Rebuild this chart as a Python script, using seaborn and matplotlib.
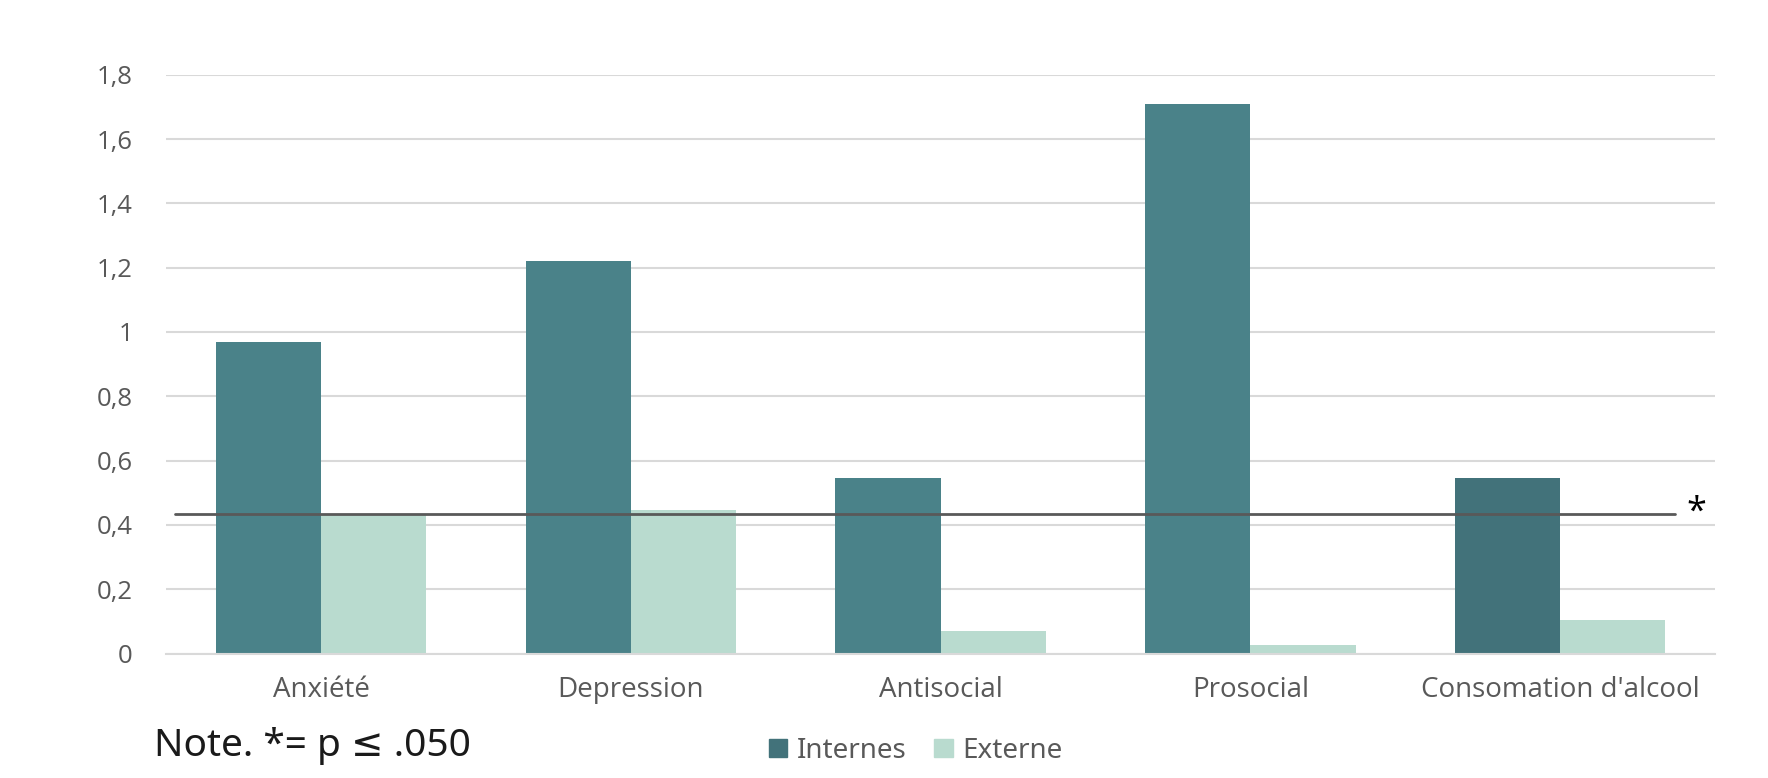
import matplotlib.pyplot as plt
import numpy as np
import pandas as pd
import seaborn as sns
from matplotlib.patches import Patch
from matplotlib.ticker import FuncFormatter

categories = ["Anxiété", "Depression", "Antisocial", "Prosocial", "Consomation d'alcool"]
internes = [0.97, 1.22, 0.545, 1.71, 0.545]
externe = [0.43, 0.445, 0.07, 0.028, 0.105]
groups = ["Internes", "Externe"]
seuil = 0.433
yticks = [0, 0.2, 0.4, 0.6, 0.8, 1.0, 1.2, 1.4, 1.6, 1.8]

df = pd.DataFrame({
    "categorie": categories * 2,
    "valeur": internes + externe,
    "groupe": ["Internes"] * len(categories) + ["Externe"] * len(categories),
})

col_int = "#4A8289"
col_int_dark = "#42727A"
col_ext = "#B9DBCF"
gris = "#595959"

sns.set_style("white")
plt.rcParams['font.family'] = ['Open Sans', 'DejaVu Sans']

fig = plt.figure(figsize=(17.68, 7.78), dpi=100)
ax = fig.add_axes([0.094, 0.160, 0.876, 0.744])

sns.barplot(data=df, x="categorie", y="valeur", hue="groupe", hue_order=groups,
            palette=[col_int, col_ext], width=0.68, saturation=1, linewidth=0,
            ax=ax, legend=False)

# la derniere barre "Internes" est plus foncee
ax.containers[0][4].set_facecolor(col_int_dark)

ax.set_ylim(0, 1.8)
ax.set_yticks(yticks)
ax.yaxis.set_major_formatter(FuncFormatter(lambda v, p: f"{v:g}".replace(".", ",")))
ax.grid(axis="y", color="#D9D9D9", lw=1.5)
ax.set_axisbelow(True)
for s in ["top", "right", "left"]:
    ax.spines[s].set_visible(False)
ax.spines["bottom"].set_color("#D9D9D9")
ax.spines["bottom"].set_linewidth(1.5)
ax.tick_params(axis="y", length=0, labelsize=18.5, colors=gris, pad=24)
ax.tick_params(axis="x", length=0, labelsize=20, colors=gris, pad=16)
ax.set_xlabel("")
ax.set_ylabel("")
ax.set_xlim(-0.5, len(categories) - 0.5)

ax.axhline(seuil, xmin=0.006, xmax=0.974, color=gris, lw=2)
ax.text(0.988, seuil + 0.005, "*", transform=ax.get_yaxis_transform(), fontsize=26,
        color="black", ha="center", va="center")

fig.text(0.087, 0.028, "Note. *= p ≤ .050", fontsize=28, color="#1a1a1a",
         family=['Noto Sans', 'DejaVu Sans'])

handles = [Patch(color=col_int_dark, label="Internes"), Patch(color=col_ext, label="Externe")]
fig.legend(handles=handles, loc="center", bbox_to_anchor=(0.518, 0.035), ncol=2, frameon=False,
           handlelength=0.65, handleheight=0.65, columnspacing=1.0,
           handletextpad=0.35, labelcolor=gris,
           prop={'family': ['Noto Sans', 'DejaVu Sans'], 'size': 20})

fig.savefig("out.png", dpi=100)
